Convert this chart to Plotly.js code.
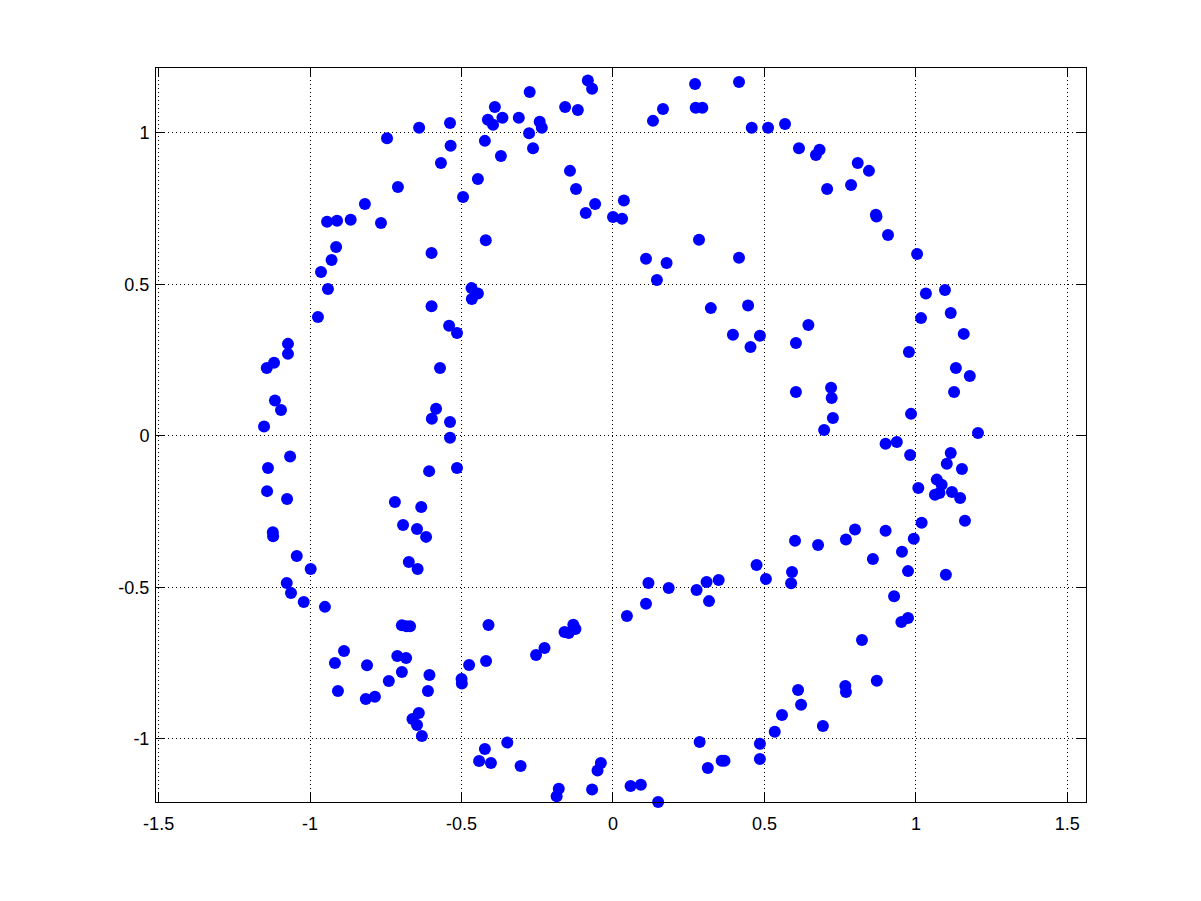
<!DOCTYPE html>
<html>
<head>
<meta charset="utf-8">
<script src="https://cdn.plot.ly/plotly-3.0.1.min.js"></script>
<style>html,body{margin:0;padding:0;background:#fff;}#chart{width:1201px;height:901px;}</style>
</head>
<body>
<div id="chart"></div>
<script>
// Point coordinates
var xValues = [
 -0.746,-0.640,-0.538,-0.536,-0.568,-0.710,-0.495,-0.819,-0.944,-0.911,-0.866,-0.766,-0.914,-0.929,-0.964,-0.599,-0.941,-0.599,-0.467,-0.446,-0.466,
 0.036,-0.083,-0.069,-0.275,0.271,0.416,-0.390,-0.413,-0.396,-0.365,-0.311,-0.242,-0.235,-0.277,-0.158,-0.116,0.132,0.165,0.273,0.295,0.458,0.512,
 -0.423,-0.264,-0.370,-0.446,-0.142,-0.122,-0.059,-0.090,0.036,0.000,0.030,-0.420,0.284,0.109,0.177,0.416,0.145,0.323,0.446,
 0.568,0.614,0.682,0.670,0.808,0.845,0.707,0.786,0.868,0.870,0.908,1.004,1.033,1.096,
 1.017,1.115,1.158,0.645,0.604,0.977,1.132,1.178,0.604,0.720,0.722,1.126,0.726,0.697,0.984,1.205,0.900,0.937,0.981,1.115,1.102,1.152,1.069,1.085,1.008,1.063,1.078,1.119,1.146,1.019,1.162,0.799,0.900,0.769,0.601,0.677,0.993,0.954,0.858,
 0.591,0.588,0.974,1.099,0.928,0.952,0.974,0.822,0.871,0.611,0.767,0.769,0.621,0.558,0.693,0.534,
 0.474,0.505,0.117,0.184,0.276,0.309,0.349,0.317,0.109,0.046,-0.411,-0.160,-0.146,-0.131,-0.124,-0.226,-0.254,-0.475,-0.419,-0.500,-0.499,-0.349,-0.423,-0.442,-0.403,-0.305,-0.179,-0.186,-0.069,-0.040,-0.051,0.058,0.092,0.149,0.286,0.313,0.359,0.368,0.485,0.485,
 -1.044,-0.998,-1.077,-1.063,-1.021,-0.951,-0.674,-0.645,-0.697,-0.682,-0.670,-0.888,-0.918,-0.812,-0.712,-0.683,-0.697,-0.740,-0.606,-0.611,-0.908,-0.816,-0.786,-0.641,-0.662,-0.647,-0.631,
 -0.974,-1.073,-1.073,-1.119,-1.143,-1.116,-1.096,-1.152,-1.066,-1.139,-1.142,-1.076,-1.123,-1.122,-0.541,-0.515,-0.571,-0.584,-0.598,-0.538,-0.538,-0.607,-0.515,-0.720,-0.633,-0.693,-0.647,-0.617,
 0.396,0.485,0.454
];
var yValues = [
 0.983,1.017,1.033,0.958,0.901,0.822,0.789,0.766,0.707,0.710,0.714,0.703,0.624,0.581,0.541,0.604,0.485,0.428,0.488,0.470,0.452,
 1.215,1.173,1.146,1.135,1.162,1.168,1.086,1.044,1.027,1.050,1.050,1.037,1.017,0.999,1.086,1.076,1.040,1.079,1.083,1.083,1.017,1.017,
 0.974,0.950,0.924,0.848,0.875,0.815,0.766,0.736,0.777,0.723,0.717,0.646,0.648,0.585,0.571,0.588,0.515,0.422,0.431,
 1.030,0.950,0.945,0.927,0.901,0.875,0.815,0.828,0.730,0.724,0.663,0.601,0.470,0.482,
 0.389,0.406,0.337,0.366,0.307,0.277,0.224,0.198,0.145,0.159,0.125,0.145,0.059,0.020,0.073,0.010,-0.026,-0.020,-0.063,-0.056,-0.092,-0.109,-0.144,-0.161,-0.172,-0.194,-0.188,-0.185,-0.205,-0.286,-0.280,-0.309,-0.313,-0.342,-0.346,-0.360,-0.339,-0.382,-0.406,
 -0.449,-0.486,-0.446,-0.458,-0.529,-0.614,-0.601,-0.673,-0.808,-0.838,-0.825,-0.845,-0.887,-0.921,-0.957,-0.976,
 -0.426,-0.472,-0.485,-0.502,-0.508,-0.482,-0.475,-0.545,-0.554,-0.594,-0.624,-0.647,-0.650,-0.623,-0.637,-0.700,-0.723,-0.756,-0.743,-0.802,-0.817,-1.012,-1.033,-1.073,-1.079,-1.089,-1.164,-1.189,-1.167,-1.079,-1.104,-1.155,-1.151,-1.208,-1.010,-1.096,-1.072,-1.072,-1.016,-1.066,
 -0.396,-0.439,-0.485,-0.518,-0.548,-0.564,-0.416,-0.439,-0.625,-0.628,-0.628,-0.710,-0.749,-0.757,-0.726,-0.733,-0.779,-0.809,-0.789,-0.842,-0.842,-0.868,-0.861,-0.914,-0.934,-0.954,-0.990,
 0.393,0.304,0.271,0.242,0.224,0.117,0.086,0.031,-0.068,-0.106,-0.182,-0.208,-0.318,-0.331,0.364,0.340,0.224,0.090,0.057,0.046,-0.006,-0.116,-0.106,-0.218,-0.234,-0.294,-0.307,-0.333,
 0.334,0.331,0.294
];
var xTickVals = [-1.5, -1, -0.5, 0, 0.5, 1, 1.5];
var xTickText = ["-1.5", "-1", "-0.5", "0", "0.5", "1", "1.5"];
var yTickVals = [-1, -0.5, 0, 0.5, 1];
var yTickText = ["-1", "-0.5", "0", "0.5", "1"];

var trace = {
  x: xValues, y: yValues, type: 'scatter', mode: 'markers',
  marker: {color: 'rgb(0,0,255)', size: 12, line: {width: 0}},
  hoverinfo: 'none', cliponaxis: false
};

var axisCommon = {
  showline: true, linecolor: '#000', linewidth: 1, mirror: 'ticks',
  ticks: 'inside', ticklen: 9, tickwidth: 1, tickcolor: '#000',
  showgrid: true, gridcolor: '#000', gridwidth: 1, griddash: '1px,3px',
  zeroline: false, tickmode: 'array',
  tickfont: {family: 'Liberation Sans, Arial, sans-serif', size: 18, color: '#000'}
};

var layout = {
  width: 1201, height: 901,
  margin: {l: 156, r: 115, t: 68, b: 99, pad: 0},
  paper_bgcolor: '#fff', plot_bgcolor: '#fff',
  showlegend: false,
  xaxis: Object.assign({}, axisCommon, {range: [-1.5087, 1.5616], tickvals: xTickVals, ticktext: xTickText, ticklabelstandoff: 5}),
  yaxis: Object.assign({}, axisCommon, {range: [-1.208, 1.2145], tickvals: yTickVals, ticktext: yTickText, ticklabelstandoff: 2})
};

Plotly.newPlot('chart', [trace], layout, {staticPlot: true, displayModeBar: false});
</script>
</body>
</html>
